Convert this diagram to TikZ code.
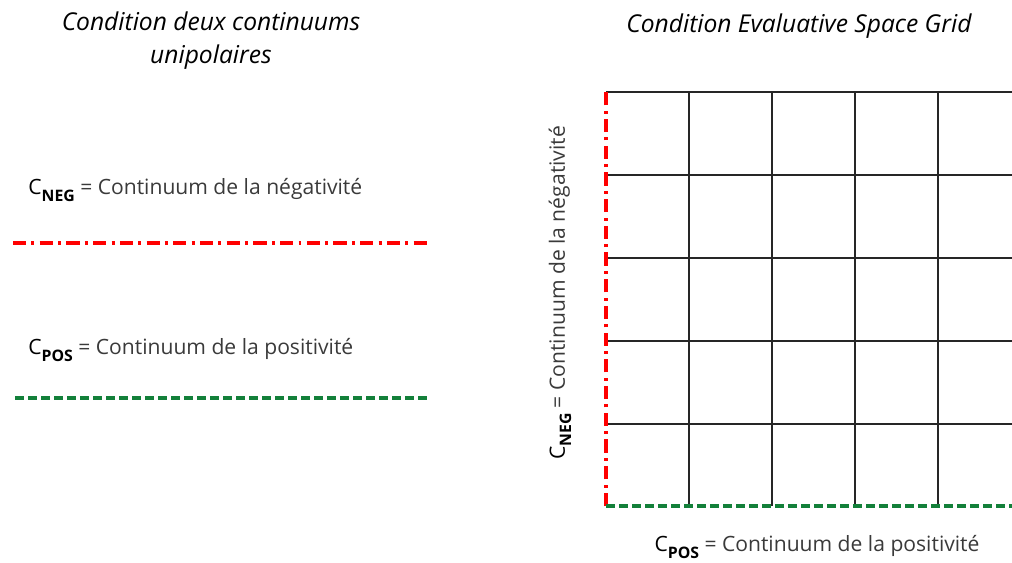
\documentclass[tikz,border=0pt]{standalone}
\usepackage{fontspec}
\setmainfont{Open Sans}
\usetikzlibrary{positioning}
\definecolor{negrouge}{HTML}{FF0000}
\definecolor{posvert}{HTML}{13803A}
\definecolor{textgris}{HTML}{3A3A3A}
\tikzstyle{titre} = [font=\itshape\fontsize{14}{18.8}\selectfont, align=center, text=black]
\tikzstyle{legende} = [font=\fontsize{12}{14}\selectfont, text=textgris, inner sep=0pt]
\tikzstyle{ligneneg} = [line width=2.1pt, color=negrouge,
    dash pattern=on 7.5pt off 3pt on 1.7pt off 3pt]
\tikzstyle{lignepos} = [line width=2.1pt, color=posvert, dash pattern=on 5pt off 2.4pt]
\tikzstyle{grille} = [line width=0.9pt, color=black!85]
\newcommand{\CNEG}{\textcolor{black}{C}\raisebox{-.55ex}{\textcolor{black}{\fontsize{9}{9}\selectfont\bfseries NEG}}}
\newcommand{\CPOS}{\textcolor{black}{C}\raisebox{-.55ex}{\textcolor{black}{\fontsize{9}{9}\selectfont\bfseries POS}}}

\begin{document}
\begin{tikzpicture}[x=0.02cm,y=-0.02cm]
	\useasboundingbox (0,0) rectangle (1012,562);

	% condition gauche
	\node[titre] (titregauche) at (211,41) {Condition deux continuums\\unipolaires};

	\node[legende, anchor=west] (legneg) at (28,190) {\CNEG{} = Continuum de la négativité};
	\coordinate (neg1) at (13,243);
	\coordinate (neg2) at (430,243);
	\draw[ligneneg] (neg1) -- (neg2);%continuum neg

	\node[legende, anchor=west] (legpos) at (28,350) {\CPOS{} = Continuum de la positivité};
	\coordinate (pos1) at (15,398);
	\coordinate (pos2) at (430,398);
	\draw[lignepos] (pos1) -- (pos2);%continuum pos

	% condition droite
	\node[titre] (titredroite) at (799,26) {Condition Evaluative Space Grid};

	\begin{scope}
		\clip (0,0) rectangle (1012,562);
		\foreach \x in {689,772,855,938}
			\draw[grille] (\x,92) -- (\x,506);
		\foreach \y in {92,175,258,341,424}
			\draw[grille] (606,\y) -- (1030,\y);
	\end{scope}

	\coordinate (origine) at (606,506);
	\coordinate (haut) at (606,92);
	\coordinate (droite) at (1012,506);
	\draw[ligneneg] (origine) -- (haut);%axe neg
	\draw[lignepos] (origine) -- (droite);%axe pos

	\node[legende, rotate=90] (axeneg) at (560,293) {\CNEG{} = Continuum de la négativité};
	\node[legende] (axepos) at (817,547) {\CPOS{} = Continuum de la positivité};
\end{tikzpicture}
\end{document}
